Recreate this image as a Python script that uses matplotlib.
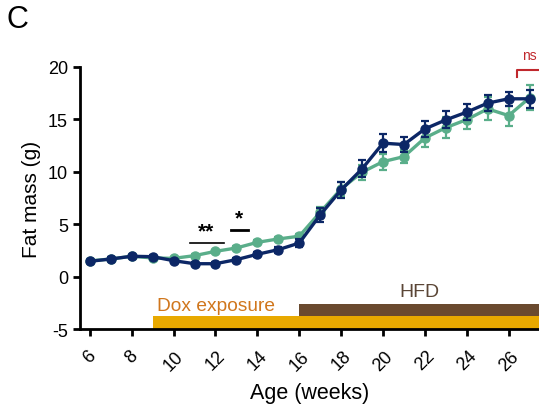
import numpy as np
import matplotlib.pyplot as plt

plt.rcParams['font.family'] = ['Liberation Sans', 'DejaVu Sans']
plt.rcParams['axes.unicode_minus'] = False

# weeks of age
weeks = np.arange(6, 28)

# fat mass (g), mean and SEM
ctrl_mean = [1.5, 1.68, 1.94, 1.78, 1.74, 2.0, 2.41, 2.73, 3.27, 3.59, 3.85,
             6.13, 8.36, 9.95, 10.96, 11.44, 13.22, 14.2, 14.97, 15.99, 15.35, 17.05]
ctrl_sem = [0.15, 0.15, 0.15, 0.15, 0.15, 0.15, 0.15, 0.15, 0.2, 0.2, 0.25,
            0.55, 0.65, 0.7, 0.75, 0.6, 0.85, 1.0, 0.9, 1.1, 0.95, 1.2]
dox_mean = [1.46, 1.68, 1.94, 1.9, 1.52, 1.23, 1.23, 1.62, 2.13, 2.57, 3.2,
            5.88, 8.26, 10.27, 12.72, 12.59, 14.08, 14.94, 15.68, 16.54, 16.95, 16.95]
dox_sem = [0.15, 0.15, 0.15, 0.15, 0.15, 0.15, 0.15, 0.2, 0.25, 0.3, 0.35,
           0.7, 0.73, 0.8, 0.86, 0.75, 0.73, 0.8, 0.75, 0.73, 0.65, 0.83]

week_ticks = list(range(6, 27, 2))
dox_start = 9
hfd_start = 16

navy = '#0c2766'
green = '#5aae8a'

fig = plt.figure(figsize=(5.39, 4.06), dpi=100)
ax = fig.add_axes([0.148, 0.187, 0.852, 0.646])

ax.errorbar(weeks, ctrl_mean, yerr=ctrl_sem, color=green, marker='o', ms=6.5,
            lw=2.4, elinewidth=1.6, capsize=2.8, capthick=1.6, zorder=3)
ax.errorbar(weeks, dox_mean, yerr=dox_sem, color=navy, marker='o', ms=6.5,
            lw=2.4, elinewidth=1.6, capsize=2.8, capthick=1.6, zorder=4)

xmax = 27.45
# treatment bars
ax.fill_between([dox_start, xmax + 1], -5, -3.75, color='#e8a900', lw=0, zorder=2)
ax.fill_between([hfd_start, xmax + 1], -3.75, -2.62, color='#6a4a2f', lw=0, zorder=2)
ax.text(9.2, -2.8, 'Dox exposure', color='#d0761c', fontsize=13.8, ha='left', va='center')
ax.text(21.75, -1.45, 'HFD', color='#5b4636', fontsize=14, ha='center', va='center')

# significance marks
ax.plot([10.8, 12.4], [3.2, 3.2], color='black', lw=1.2)
ax.text(11.55, 4.35, '**', fontsize=15, ha='center', va='center', fontweight='bold')
ax.plot([12.76, 13.57], [4.48, 4.48], color='black', lw=2)
ax.text(13.12, 5.6, '*', fontsize=15, ha='center', va='center', fontweight='bold')

red = '#c0282d'
ax.plot([26.41, 26.41, xmax + 1], [19.05, 19.65, 19.65], color=red, lw=1.5, clip_on=False)
ax.text(26.62, 21.1, 'ns', color=red, fontsize=10, ha='left', va='center', clip_on=False)

ax.set_xlim(5.52, xmax)
ax.set_ylim(-5, 20)
ax.set_yticks([-5, 0, 5, 10, 15, 20])
ax.set_xticks(week_ticks)
ax.set_xticklabels([str(w) for w in week_ticks], rotation=45, ha='center')
ax.tick_params(labelsize=13, width=2, length=5, direction='out', colors='black')
ax.tick_params(axis='x', pad=8)
for s in ['top', 'right']:
    ax.spines[s].set_visible(False)
for s in ['left', 'bottom']:
    ax.spines[s].set_linewidth(2)

ax.set_xlabel('Age (weeks)', fontsize=15.5, labelpad=6)
ax.set_ylabel('Fat mass (g)', fontsize=15, labelpad=5)

fig.text(0.012, 0.95, 'C', fontsize=22, ha='left', va='center')

fig.savefig('out.png', dpi=100)
